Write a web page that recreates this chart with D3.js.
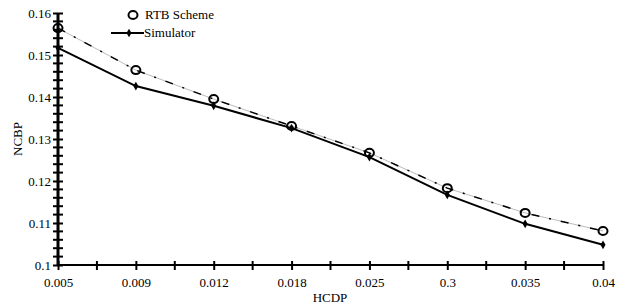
<!DOCTYPE html>
<html>
<head>
<meta charset="utf-8">
<script src="https://cdn.jsdelivr.net/npm/d3@7"></script>
<style>
  body { margin: 0; background: #fff; }
  svg, svg text { font-family: 'Liberation Serif', 'DejaVu Serif', serif !important; fill: #000; }
</style>
</head>
<body>
<svg id="chart" width="623" height="307"></svg>
<script>
// THE DATA
const categories = ["0.005", "0.009", "0.012", "0.018", "0.025", "0.3", "0.035", "0.04"];
const rtbScheme = [0.1564, 0.1464, 0.1395, 0.1331, 0.1267, 0.1183, 0.1124, 0.1081];
const simulator = [0.1517, 0.1426, 0.1379, 0.1326, 0.1257, 0.1167, 0.1098, 0.1048];
const yTicks = [0.1, 0.11, 0.12, 0.13, 0.14, 0.15, 0.16];

const svg = d3.select("#chart");
const margin = {left: 58, right: 20, top: 13, bottom: 42};
const width = 623, height = 307;
const fs = 13;

const x = d3.scalePoint()
  .domain(categories)
  .range([margin.left, width - margin.right]);

const y = d3.scaleLinear()
  .domain([0.1, 0.16])
  .range([height - margin.bottom, margin.top]);

// axes
const xAxis = svg.append("g")
  .attr("transform", `translate(0,${height - margin.bottom})`)
  .call(d3.axisBottom(x).tickSize(6).tickPadding(7));
xAxis.attr("font-family", null);
xAxis.select(".domain").attr("stroke-width", 2).attr("d", `M${margin.left},0H${width - margin.right}`);
xAxis.selectAll(".tick line").attr("y1", -4).attr("y2", 5).attr("stroke-width", 2);
xAxis.selectAll("text").attr("font-size", fs);

// minor x ticks halfway between categories
const step = x.step();
xAxis.selectAll(".minor")
  .data(categories.slice(0, -1))
  .join("line")
  .attr("x1", d => x(d) + step / 2)
  .attr("x2", d => x(d) + step / 2)
  .attr("y1", -4).attr("y2", 5)
  .attr("stroke", "#000").attr("stroke-width", 2);

const yAxis = svg.append("g")
  .attr("transform", `translate(${margin.left},0)`)
  .call(d3.axisLeft(y).tickValues(yTicks).tickFormat(d3.format("~g")).tickSize(5).tickPadding(2));
yAxis.attr("font-family", null);
yAxis.select(".domain").attr("stroke-width", 3).attr("d", `M0,${height - margin.bottom}V${margin.top}`);
yAxis.selectAll(".tick line").attr("x1", -5).attr("x2", 5).attr("stroke-width", 2);
yAxis.selectAll("text").attr("font-size", fs);

const minorY = d3.range(0, 31).map(i => 0.1 + i * 0.002).filter((d, i) => i % 5 !== 0);
yAxis.selectAll(".minor")
  .data(minorY)
  .join("line")
  .attr("x1", -5).attr("x2", 5)
  .attr("y1", d => y(d)).attr("y2", d => y(d))
  .attr("stroke", "#000").attr("stroke-width", 2);

// axis labels
svg.append("text")
  .attr("x", 330)
  .attr("y", 302)
  .attr("text-anchor", "middle")
  .attr("font-size", fs)
  .text("HCDP");

svg.append("text")
  .attr("transform", `translate(22,${(margin.top + height - margin.bottom) / 2}) rotate(-90)`)
  .attr("text-anchor", "middle")
  .attr("font-size", fs)
  .text("NCBP");

// lines
const line = d3.line()
  .x((d, i) => x(categories[i]))
  .y(d => y(d));

// RTB: thin grey line with black dashes on top
svg.append("path")
  .datum(rtbScheme)
  .attr("d", line)
  .attr("fill", "none")
  .attr("stroke", "#bbb")
  .attr("stroke-width", 1);
svg.append("path")
  .datum(rtbScheme)
  .attr("d", line)
  .attr("fill", "none")
  .attr("stroke", "#000")
  .attr("stroke-width", 1.5)
  .attr("stroke-dasharray", "8,10,2,10");

svg.append("path")
  .datum(simulator)
  .attr("d", line)
  .attr("fill", "none")
  .attr("stroke", "#000")
  .attr("stroke-width", 2);

// markers
const diamond = d3.symbol().type(d3.symbolDiamond).size(22);
svg.selectAll(".sim")
  .data(simulator)
  .join("path")
  .attr("d", diamond)
  .attr("transform", (d, i) => `translate(${x(categories[i])},${y(d)})`)
  .attr("fill", "#000");

svg.selectAll(".rtb")
  .data(rtbScheme)
  .join("ellipse")
  .attr("cx", (d, i) => x(categories[i]))
  .attr("cy", d => y(d))
  .attr("rx", 4.5)
  .attr("ry", 4)
  .attr("fill", "none")
  .attr("stroke", "#000")
  .attr("stroke-width", 2);

// legend
const legend = svg.append("g");
legend.append("ellipse")
  .attr("cx", 133).attr("cy", 15).attr("rx", 4.5).attr("ry", 4)
  .attr("fill", "none").attr("stroke", "#000").attr("stroke-width", 2);
legend.append("text").attr("x", 145).attr("y", 19).attr("font-size", fs).text("RTB Scheme");
legend.append("line")
  .attr("x1", 111).attr("x2", 144).attr("y1", 33).attr("y2", 33)
  .attr("stroke", "#000").attr("stroke-width", 2);
legend.append("path")
  .attr("d", diamond)
  .attr("transform", "translate(129,33)")
  .attr("fill", "#000");
legend.append("text").attr("x", 144).attr("y", 37).attr("font-size", fs).text("Simulator");
</script>
</body>
</html>
